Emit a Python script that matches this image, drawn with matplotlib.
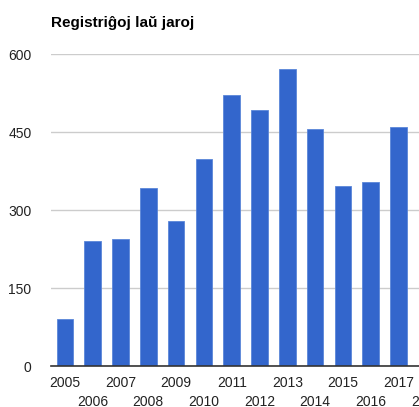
import matplotlib
matplotlib.use("Agg")
import matplotlib.pyplot as plt

years = ["2005", "2006", "2007", "2008", "2009", "2010", "2011", "2012",
         "2013", "2014", "2015", "2016", "2017", "2018"]
values = [90, 240, 245, 342, 279, 398, 522, 493, 571, 456, 347, 354, 459]
yticks = [0, 150, 300, 450, 600]
title = "Registriĝoj laŭ jaroj"

plt.rcParams['font.family'] = ['Liberation Sans', 'DejaVu Sans']

W, H = 419, 407
fig = plt.figure(figsize=(W / 100, H / 100), dpi=100)
step = 27.8
left_px, bottom_px, top_px = 51, H - 366, H - 54
ncat = len(years)
ax = fig.add_axes([left_px / W, bottom_px / H, ncat * step / W, (top_px - bottom_px) / H])

x = list(range(len(values)))
ax.bar(x, values, width=0.59, color="#3366cc", edgecolor="#5b86d8", linewidth=0.6, zorder=3)
ax.set_xlim(-0.5, ncat - 0.5)
ax.set_ylim(0, 600)
ax.set_yticks(yticks)
ax.set_yticklabels([str(v) for v in yticks])
ax.yaxis.grid(True, color="#cccccc", linewidth=1, zorder=0)
ax.tick_params(axis='y', length=0, pad=14, labelsize=10, labelcolor="#222222")

major = list(range(0, ncat, 2))
minor = list(range(1, ncat, 2))
ax.set_xticks(major)
ax.set_xticklabels([years[i] for i in major])
ax.set_xticks(minor, minor=True)
ax.set_xticklabels([years[i] for i in minor], minor=True)
ax.tick_params(axis='x', which='major', length=0, pad=7.3, labelsize=10, labelcolor="#222222")
ax.tick_params(axis='x', which='minor', length=0, pad=21, labelsize=10, labelcolor="#222222")
for s in ["top", "right", "left"]:
    ax.spines[s].set_visible(False)
ax.spines["bottom"].set_color("#333333")
ax.spines["bottom"].set_linewidth(1.2)
ax.spines["bottom"].set_zorder(4)

fig.text(left_px / W, 1 - 23 / H, title, fontsize=11, fontweight="bold",
         color="#000000", ha="left", va="center")

fig.savefig("out.png", dpi=100)
